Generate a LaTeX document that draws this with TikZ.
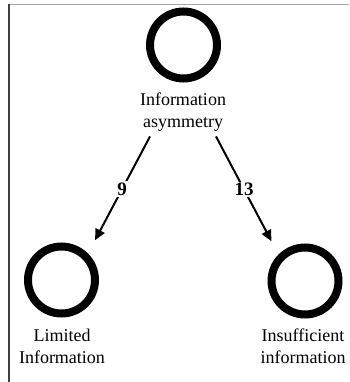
\documentclass[tikz,border=0pt]{standalone}
\usepackage{fontspec}
\setmainfont{Liberation Serif}
\usetikzlibrary{arrows.meta,calc}
\begin{document}
\begin{tikzpicture}[x=1pt,y=-1pt,
  ring/.style={circle,draw=black,line width=8pt,minimum size=67pt,inner sep=0pt},
  lab/.style={align=center,font=\fontsize{18}{22}\selectfont,inner sep=2pt},
  arr/.style={line width=2pt,-{Triangle[length=11pt,width=10pt]},shorten >=15pt},
  num/.style={fill=white,inner sep=1.5pt,font=\fontsize{19}{21}\selectfont\bfseries}]
\useasboundingbox (0,0) rectangle (349,382);
\coordinate (tl) at (9,4.5);
\coordinate (tr) at (349,4.5);
\coordinate (bl) at (9,382);
\draw[line width=1.5pt,black!35] (tl) -- (tr);
\draw[line width=1.5pt,black!75] (tl) -- (bl);
\node[ring] (top) at (183.5,45) {};
\node[lab] (toplab) at (183,112) {Information\\asymmetry};
\node[ring] (left) at (61.5,280) {};
\node[lab] (leftlab) at (62,346) {Limited\\Information};
\node[ring] (right) at (305,281) {};
\node[lab] (rightlab) at (303,346) {Insufficient\\information};
\draw[arr] ($(toplab.south)+(-33,3)$) -- (left.north east)
  node[num,pos=0.45] {9};
\draw[arr] ($(toplab.south)+(33,3)$) -- (right.north west)
  node[num,pos=0.45] {13};
\end{tikzpicture}
\end{document}
